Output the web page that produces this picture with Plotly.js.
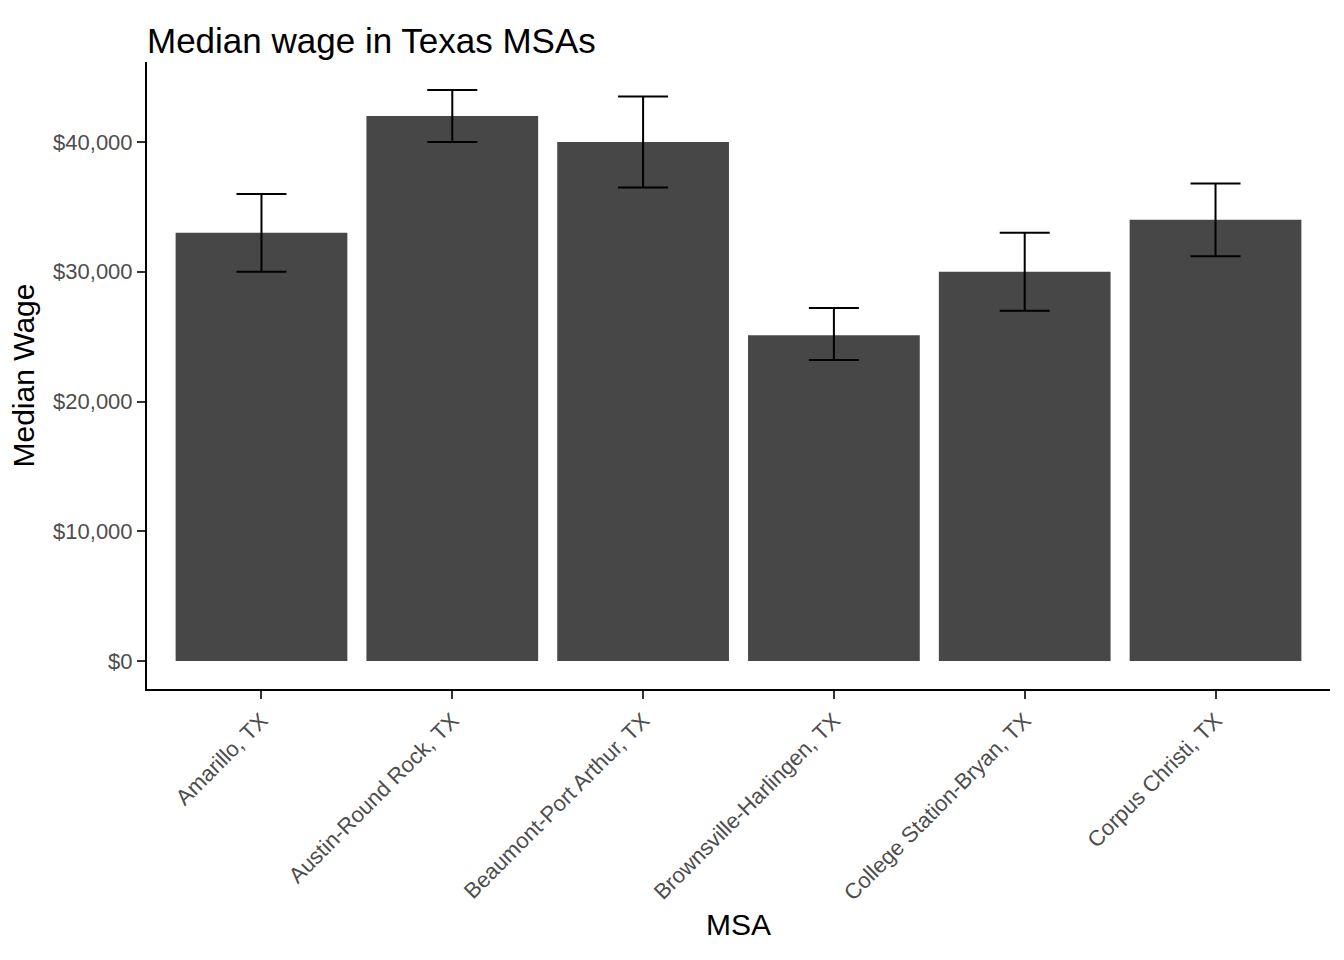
<!DOCTYPE html>
<html>
<head>
<meta charset="utf-8">
<script src="https://cdn.plot.ly/plotly-3.0.1.min.js"></script>
<style>body{margin:0;background:#fff}</style>
</head>
<body>
<div id="chart" style="width:1344px;height:960px"></div>
<script>
var msas = ["Amarillo, TX", "Austin-Round Rock, TX", "Beaumont-Port Arthur, TX",
  "Brownsville-Harlingen, TX", "College Station-Bryan, TX", "Corpus Christi, TX"];
var medianWage = [33000, 42000, 40000, 25100, 30000, 34000];
var upper = [36000, 44000, 43500, 27200, 33000, 36800];
var lower = [30000, 40000, 36500, 23200, 27000, 31200];

var plus = medianWage.map(function(v, i){ return upper[i] - v; });
var minus = medianWage.map(function(v, i){ return v - lower[i]; });

var trace = {
  x: msas.map(function(_, i){ return i; }),
  y: medianWage,
  type: "bar",
  width: 0.9,
  marker: {color: "#474747"},
  error_y: {type: "data", symmetric: false, array: plus, arrayminus: minus,
    color: "#000", thickness: 2, width: 25},
  hoverinfo: "none"
};

var layout = {
  width: 1344, height: 960,
  margin: {l: 147, r: 14, t: 62, b: 271},
  paper_bgcolor: "#fff", plot_bgcolor: "#fff",
  font: {family: "Liberation Sans, Arial, sans-serif"},
  showlegend: false,
  title: {text: "Median wage in Texas MSAs", x: 147/1344, xanchor: "left", y: 0.97,
    font: {size: 35, color: "#000"}},
  xaxis: {
    range: [-0.6, 5.6], showgrid: false, zeroline: false,
    tickvals: [0, 1, 2, 3, 4, 5], ticktext: msas, tickangle: -45,
    showline: true, linecolor: "#000", linewidth: 2,
    ticks: "outside", ticklen: 8, tickwidth: 2, tickcolor: "#333",
    tickfont: {size: 22, color: "#4d4d4d"},
    title: {text: "MSA", font: {size: 30, color: "#000"}, standoff: 10}
  },
  yaxis: {
    range: [-2158, 46166], showgrid: false, zeroline: false,
    tickvals: [0, 10000, 20000, 30000, 40000],
    ticktext: ["$0", "$10,000", "$20,000", "$30,000", "$40,000"],
    showline: true, linecolor: "#000", linewidth: 2,
    ticks: "outside", ticklen: 8, tickwidth: 2, tickcolor: "#333",
    tickfont: {size: 22, color: "#4d4d4d"},
    title: {text: "Median Wage", font: {size: 30, color: "#000"}, standoff: 10}
  }
};

Plotly.newPlot("chart", [trace], layout, {displayModeBar: false});
</script>
</body>
</html>
